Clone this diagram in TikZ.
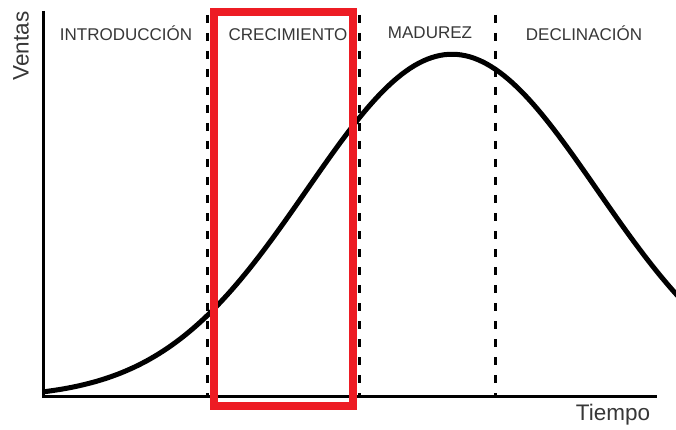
\documentclass[tikz,border=0pt]{standalone}
\usepackage{fontspec}
\setmainfont{Liberation Sans}
\definecolor{marcorojo}{RGB}{237,28,36}
\definecolor{textogris}{RGB}{55,55,55}

\begin{document}
\begin{tikzpicture}[
    x=1pt,
    y=-1pt,
    etapa/.style={text=textogris, font=\fontsize{17}{19}\selectfont, inner sep=0},
    eje/.style={text=textogris, font=\fontsize{22.5}{25}\selectfont, inner sep=0},
    limite/.style={draw=black, line width=3pt, dash pattern=on 8pt off 10pt},
    curva/.style={line width=5pt, line cap=round}]
   \useasboundingbox[fill=white] (0,0) rectangle (676,430);

   \path
     coordinate(origen) at ( 43,396)
     coordinate(ytop)   at ( 43, 11)
     coordinate(xfin)   at (657,396)
     coordinate(l1top)  at (207, 15)
     coordinate(l1bot)  at (207,396)
     coordinate(l2top)  at (359, 15)
     coordinate(l2bot)  at (359,396)
     coordinate(l3top)  at (495, 15)
     coordinate(l3bot)  at (495,396);

   \path
     node(intro)  at (126,33) [etapa] {INTRODUCCIÓN}
     node(crec)   at (288,35) [etapa] {CRECIMIENTO}
     node(madur)  at (430,33) [etapa] {MADUREZ}
     node(declin) at (584,33) [etapa] {DECLINACIÓN}
     node(ventas) at ( 21,46) [eje, rotate=90] {Ventas}
     node(tiempo) at (613,415) [eje] {Tiempo};

   % limites entre etapas
   \draw[limite] (l1top) -- (l1bot);
   \draw[limite] (l2top) -- (l2bot);
   \draw[limite] (l3top) -- (l3bot);

   % ciclo de vida
   \draw[curva] plot[domain=45:678, samples=150]
     (\x, {393.5-344*(exp(-((\x-452)/100)^2/4.205)-0.014)});

   \draw[line width=3pt] (ytop) -- (origen) -- (xfin);

   \draw[marcorojo, line width=8pt] (214,12) rectangle (353,406);
  \end{tikzpicture}
\end{document}
